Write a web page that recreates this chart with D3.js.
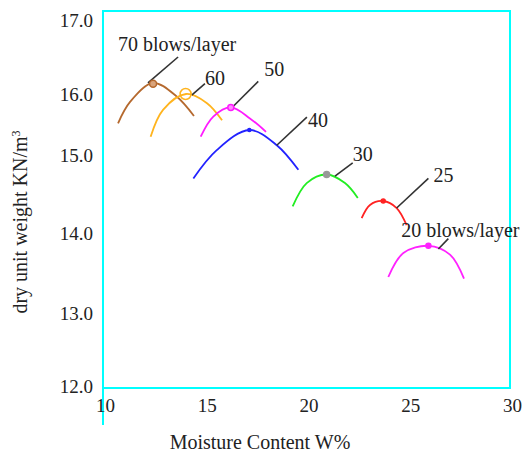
<!DOCTYPE html>
<html>
<head>
<meta charset="utf-8">
<script src="https://cdn.jsdelivr.net/npm/d3@7"></script>
<style>
  body { margin: 0; background: #fff; }
  text { font-family: "Liberation Serif", "Times New Roman", serif; fill: #222; }
</style>
</head>
<body>
<div id="chart"></div>
<script>
/* data */
var blowLabels = ["70 blows/layer", "60", "50", "40", "30", "25", "20 blows/layer"];
var curveMoisture = [
  [10.74, 11.33, 12.46, 13.62, 14.47],
  [12.34, 12.95, 14.08, 15.11, 15.85],
  [14.80, 15.42, 16.28, 17.22, 18.01],
  [14.44, 15.59, 17.19, 18.54, 19.60],
  [19.32, 20.01, 20.99, 21.89, 22.52],
  [22.71, 23.12, 23.77, 24.43, 24.92],
  [24.02, 24.76, 25.99, 27.05, 27.74]
];
var curveDensity = [
  [15.52, 15.87, 16.15, 15.96, 15.64],
  [15.30, 15.74, 16.00, 15.85, 15.57],
  [15.30, 15.63, 15.78, 15.60, 15.38],
  [14.70, 15.08, 15.41, 15.16, 14.81],
  [14.34, 14.64, 14.75, 14.64, 14.45],
  [14.19, 14.36, 14.41, 14.32, 14.10],
  [13.45, 13.75, 13.84, 13.73, 13.43]
];
var peakMoisture = [12.46, 14.06, 16.28, 17.19, 20.99, 23.77, 25.99];
var peakDensity  = [16.14, 16.00, 15.78, 15.41, 14.75, 14.41, 13.84];
// leader lines: from point on curve to the label
var leaderFrom = [[12.21, 16.15], [14.36, 15.98], [16.32, 15.77], [18.54, 15.16], [21.40, 14.73], [24.43, 14.32], [26.48, 13.80]];
var leaderTo   = [[13.69, 16.50], [15.01, 16.14], [17.63, 16.17], [20.02, 15.62], [22.27, 14.90], [25.99, 14.70], [26.97, 13.93]];
var xTicks = [10, 15, 20, 25, 30];
var yTicks = [12, 13, 14, 15, 16, 17];

/* styles */
var colors = ["#b5692e", "#ffb41e", "#ff1aff", "#2222ff", "#22ee22", "#ff2222", "#ff22ff"];
var markerR = [3.5, 5.5, 3, 1.5, 3, 2, 2.5];
var markerFill = ["#d9a47c", "none", "#ff88ff", "#2222ff", "#999", "#ff2222", "#ff22ff"];
var markerStroke = ["#b5692e", "#ffb41e", "#ff1aff", "#2222ff", "#999", "#ff2222", "#ff22ff"];
// label offsets from leader end: [anchor, dx, dy]
var labelPlace = [["middle", -1, -6], ["start", 0, 1], ["start", 6, -5], ["start", 1, 10], ["start", 0, -2], ["start", 5, 4], ["middle", 12, -2]];

var width = 523, height = 454;
var svg = d3.select("#chart").append("svg")
  .attr("width", width)
  .attr("height", height);

var x = d3.scaleLinear().domain([10, 30]).range([103, 510]);
// tick labels in the original are not evenly spaced, so the y scale is piecewise
var y = d3.scaleLinear().domain(yTicks).range([386, 313, 233, 155, 94, 20]);

var plotTop = 11, plotBottom = 388;

/* cyan frame */
var cyan = "#00ffff";
svg.append("rect")
  .attr("x", x(10)).attr("y", plotTop)
  .attr("width", x(30) - x(10)).attr("height", plotBottom - plotTop)
  .attr("fill", "none").attr("stroke", cyan).attr("stroke-width", 2);
svg.append("line")
  .attr("x1", x(10)).attr("x2", x(10))
  .attr("y1", plotTop).attr("y2", 425)
  .attr("stroke", cyan).attr("stroke-width", 2);

/* axes */
var yAxis = svg.append("g")
  .attr("transform", "translate(" + x(10) + ",0)")
  .call(d3.axisLeft(y).tickValues(yTicks).tickFormat(d3.format(".1f")).tickSize(0).tickPadding(10));
yAxis.select(".domain").remove();
yAxis.selectAll("text").style("font-size", "19px").attr("fill", "#222").style("font-family", "Liberation Serif, serif");

var xAxis = svg.append("g")
  .attr("transform", "translate(2," + plotBottom + ")")
  .call(d3.axisBottom(x).tickValues(xTicks).tickSize(0).tickPadding(11));
xAxis.select(".domain").remove();
xAxis.selectAll("text").style("font-size", "19px").attr("fill", "#222").style("font-family", "Liberation Serif, serif");

svg.append("text")
  .attr("x", 260).attr("y", 449)
  .attr("text-anchor", "middle")
  .style("font-size", "20px")
  .text("Moisture Content W%");

var ylab = svg.append("text")
  .attr("transform", "translate(27,222) rotate(-90)")
  .attr("text-anchor", "middle")
  .style("font-size", "20px");
ylab.append("tspan").text("dry unit weight KN/m");
ylab.append("tspan").attr("baseline-shift", "super").style("font-size", "12px").text("3");

/* curves */
var line = d3.line()
  .x(function(d) { return x(d[0]); })
  .y(function(d) { return y(d[1]); })
  .curve(d3.curveCatmullRom.alpha(0.5));

var series = blowLabels.map(function(lbl, i) {
  return {
    label: lbl,
    points: d3.zip(curveMoisture[i], curveDensity[i]),
    peak: [peakMoisture[i], peakDensity[i]],
    from: leaderFrom[i],
    to: leaderTo[i],
    i: i
  };
});

var g = svg.append("g");

g.selectAll("path.curve")
  .data(series)
  .enter().append("path")
  .attr("class", "curve")
  .attr("d", function(d) { return line(d.points); })
  .attr("fill", "none")
  .attr("stroke", function(d) { return colors[d.i]; })
  .attr("stroke-width", 1.8);

g.selectAll("line.leader")
  .data(series)
  .enter().append("line")
  .attr("class", "leader")
  .attr("x1", function(d) { return x(d.from[0]); })
  .attr("y1", function(d) { return y(d.from[1]); })
  .attr("x2", function(d) { return x(d.to[0]); })
  .attr("y2", function(d) { return y(d.to[1]); })
  .attr("stroke", "#333")
  .attr("stroke-width", 1.6);

g.selectAll("circle.peak")
  .data(series)
  .enter().append("circle")
  .attr("class", "peak")
  .attr("cx", function(d) { return x(d.peak[0]); })
  .attr("cy", function(d) { return y(d.peak[1]); })
  .attr("r", function(d) { return markerR[d.i]; })
  .attr("fill", function(d) { return markerFill[d.i]; })
  .attr("stroke", function(d) { return markerStroke[d.i]; })
  .attr("stroke-width", 1.5);

g.selectAll("text.blows")
  .data(series)
  .enter().append("text")
  .attr("class", "blows")
  .attr("x", function(d) { return x(d.to[0]) + labelPlace[d.i][1]; })
  .attr("y", function(d) { return y(d.to[1]) + labelPlace[d.i][2]; })
  .attr("text-anchor", function(d) { return labelPlace[d.i][0]; })
  .style("font-size", "20px")
  .text(function(d) { return d.label; });
</script>
</body>
</html>
